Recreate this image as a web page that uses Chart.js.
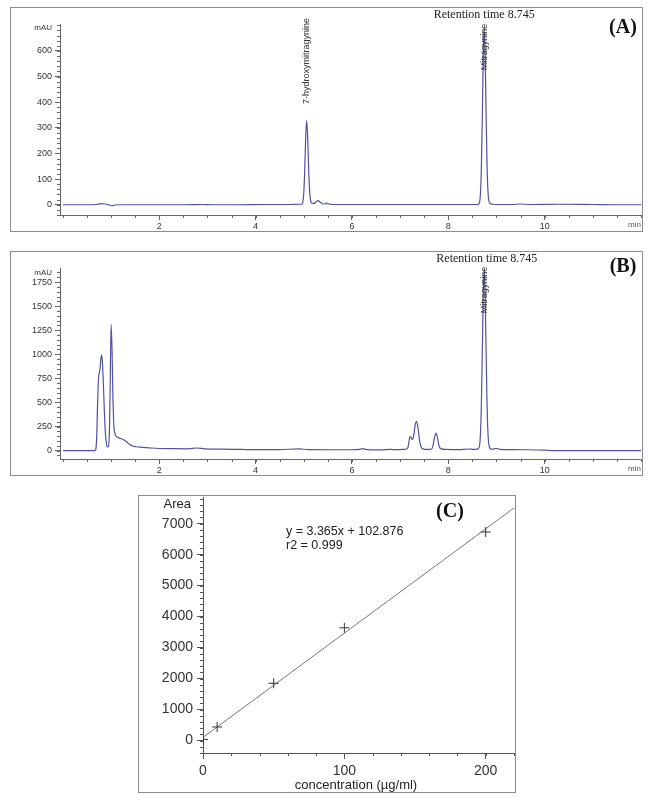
<!DOCTYPE html>
<html>
<head>
<meta charset="utf-8">
<script src="https://cdn.jsdelivr.net/npm/chart.js@4"></script>
<style>
  body { margin: 0; background: #fff; width: 650px; height: 804px; position: relative; overflow: hidden; }
  .box { position: absolute; border: 1px solid #8c8c8c; box-sizing: border-box; }
  canvas { position: absolute; }
</style>
</head>
<body>
<div class="box" style="left:10px;top:7px;width:633px;height:225px"></div>
<div class="box" style="left:10px;top:251px;width:633px;height:225px"></div>
<div class="box" style="left:138px;top:495px;width:378px;height:298px"></div>
<canvas id="chromA" width="632" height="224" style="left:10px;top:7px"></canvas>
<canvas id="chromB" width="632" height="224" style="left:10px;top:251px"></canvas>
<canvas id="calib" width="377" height="297" style="left:138px;top:495px"></canvas>
<script>
'use strict';

// (A) standard chromatogram, time in min / absorbance in mAU
const timeA = [0, 0.5, 0.7, 0.78, 0.86, 0.95, 1.02, 1.08, 1.2, 1.6, 2.0, 2.5, 2.9, 3.1, 3.6, 4.2, 4.7, 4.9,
  4.96, 4.98, 5.00, 5.02, 5.04, 5.06, 5.08, 5.10, 5.12, 5.14, 5.17, 5.21, 5.26, 5.30, 5.34, 5.39, 5.44, 5.47, 5.52, 5.6,
  6.0, 6.5, 7.0, 7.5, 8.0, 8.4, 8.605, 8.645, 8.665, 8.685, 8.705, 8.725, 8.745, 8.765, 8.785, 8.805, 8.825, 8.845,
  8.87, 8.92, 9.0, 9.3, 9.5, 9.7, 10.3, 11.0, 11.5, 12];
const mauA = [0, 0, 1, 4, 3, 0, -4, -1, 0, 0, 0, 0, 1, 0, 0, 1, 1, 2,
  2, 10, 45, 135, 262, 328, 270, 150, 58, 18, 6, 5, 12, 16, 10, 4, 3, 6, 3, 1,
  1, 1, 1, 1, 1, 1, 1, 7, 37, 132, 330, 573, 690, 585, 350, 150, 48, 14,
  5, 2, 1, 1, 3, 1, 2, 1, 0, 0];

// (B) sample chromatogram
const timeB = [0, 0.5, 0.66, 0.68, 0.70, 0.72, 0.74, 0.755, 0.77, 0.79, 0.805, 0.82, 0.84, 0.86, 0.88, 0.90, 0.92,
  0.94, 0.96, 0.98, 1.00, 1.02, 1.04, 1.06, 1.09, 1.13, 1.18, 1.24, 1.30, 1.36, 1.43, 1.52, 1.65, 1.8, 2.0, 2.3, 2.6,
  2.78, 2.95, 3.3, 3.7, 4.0, 4.5, 4.9, 5.1, 5.6, 6.0, 6.15, 6.22, 6.3, 6.6, 6.8, 6.9, 7.05, 7.12, 7.16, 7.18, 7.20,
  7.22, 7.25, 7.28, 7.31, 7.34, 7.37, 7.40, 7.43, 7.47, 7.55, 7.64, 7.68, 7.71, 7.745, 7.78, 7.81, 7.85, 7.95, 8.2,
  8.44, 8.52, 8.6, 8.645, 8.665, 8.685, 8.705, 8.725, 8.745, 8.765, 8.785, 8.805, 8.825, 8.845, 8.87, 8.92, 8.98,
  9.02, 9.08, 9.3, 9.6, 10.0, 10.2, 11.0, 12];
const mauB = [0, 0, 0, 8, 120, 480, 760, 800, 850, 960, 995, 920, 700, 420, 200, 90, 40,
  38, 110, 600, 1310, 1050, 520, 250, 165, 140, 130, 118, 100, 75, 50, 40, 34, 28, 22, 20, 19,
  27, 18, 15, 12, 10, 10, 18, 10, 9, 9, 12, 20, 10, 8, 12, 10, 12, 14, 30, 80, 140,
  145, 115, 150, 260, 303, 240, 120, 45, 18, 12, 14, 45, 130, 181, 120, 45, 18, 12, 10,
  17, 13, 15, 45, 150, 445, 995, 1610, 1885, 1620, 1020, 470, 165, 55, 22, 14, 22,
  20, 12, 10, 9, 5, 0, 0, 0];

const chromTicks = [2, 4, 6, 8, 10];
const ticksA = [0, 100, 200, 300, 400, 500, 600];
const ticksB = [0, 250, 500, 750, 1000, 1250, 1500, 1750];

// (C) calibration curve
const concentration = [0, 10, 50, 100, 200];
const area = [40, 440, 1850, 3640, 6730];
const fitConc = [0, 220];
const fitArea = [103, 7506];
const ticksCx = [0, 100, 200];
const ticksCy = [0, 1000, 2000, 3000, 4000, 5000, 6000, 7000];

const SANS = "'Liberation Sans', Arial, sans-serif";
const SERIF = "'Liberation Serif', 'Times New Roman', serif";

// short unlabeled ticks between the labeled ones
const minorTicks = {
  id: 'minorTicks',
  afterDraw(chart, args, o) {
    const { ctx, scales: { x, y } } = chart;
    ctx.save();
    ctx.strokeStyle = o.color;
    ctx.lineWidth = 1;
    ctx.beginPath();
    for (let i = Math.ceil(x.min / o.x); i * o.x <= x.max + 1e-9; i++) {
      const px = Math.round(x.getPixelForValue(i * o.x)) + 0.5;
      ctx.moveTo(px, x.top);
      ctx.lineTo(px, x.top + o.len);
    }
    for (let i = Math.ceil(y.min / o.y); i * o.y <= y.max + 1e-9; i++) {
      const py = Math.round(y.getPixelForValue(i * o.y)) + 0.5;
      ctx.moveTo(y.right, py);
      ctx.lineTo(y.right - o.len, py);
    }
    ctx.stroke();
    ctx.restore();
  }
};

function notes(items) {
  return {
    id: 'notes',
    afterDraw(chart) {
      const ctx = chart.ctx;
      items.forEach(n => {
        const px = n.t !== undefined ? chart.scales.x.getPixelForValue(n.t) : n.x;
        ctx.save();
        ctx.font = n.font;
        ctx.fillStyle = n.color || '#222';
        ctx.textAlign = n.align || 'center';
        ctx.textBaseline = 'middle';
        ctx.translate(px, n.y);
        if (n.rot) ctx.rotate(-Math.PI / 2);
        ctx.fillText(n.text, 0, 0);
        ctx.restore();
      });
    }
  };
}

function pts(xs, ys) {
  return xs.map((v, i) => ({ x: v, y: ys[i] }));
}

// fixed axis box sizes, no extra room for edge labels
function fitTo(w, h) {
  return s => {
    if (w) s.width = w;
    if (h) s.height = h;
    s.paddingLeft = 0; s.paddingRight = 0; s.paddingTop = 0; s.paddingBottom = 0;
  };
}

function chromOptions(yMin, yMax, yTicks, yMinor) {
  return {
    responsive: false,
    animation: false,
    layout: { autoPadding: false, padding: { top: 17, right: 1, left: 0, bottom: 0 } },
    plugins: {
      legend: { display: false },
      tooltip: { enabled: false },
      minorTicks: { x: 0.5, y: yMinor, len: 3, color: '#666' }
    },
    scales: {
      x: {
        type: 'linear', min: -0.06, max: 12,
        afterBuildTicks: s => { s.ticks = chromTicks.map(v => ({ value: v })); },
        afterFit: fitTo(0, 16),
        ticks: { font: { family: SANS, size: 9 }, color: '#333', padding: 1, maxRotation: 0, autoSkip: false,
          callback: v => String(v) },
        grid: { drawOnChartArea: false, tickLength: 5, color: '#666' },
        border: { color: '#666' }
      },
      y: {
        min: yMin, max: yMax,
        afterBuildTicks: s => { s.ticks = yTicks.map(v => ({ value: v })); },
        afterFit: fitTo(50, 0),
        ticks: { font: { family: SANS, size: 9 }, color: '#333', padding: 3, autoSkip: false,
          callback: v => String(v) },
        grid: { drawOnChartArea: false, tickLength: 5, color: '#666' },
        border: { color: '#666' }
      }
    }
  };
}

function chromDataset(xs, ys) {
  return {
    datasets: [{
      data: pts(xs, ys),
      borderColor: '#5252a3',
      borderWidth: 1.2,
      pointRadius: 0,
      fill: false,
      cubicInterpolationMode: 'monotone'
    }]
  };
}

new Chart(document.getElementById('chromA'), {
  type: 'line',
  data: chromDataset(timeA, mauA),
  options: chromOptions(-40, 705, ticksA, 20),
  plugins: [minorTicks, notes([
    { text: 'mAU', x: 42, y: 21, font: '8px ' + SANS, color: '#333', align: 'right' },
    { text: 'min', x: 631, y: 218, font: '8px ' + SANS, color: '#555', align: 'right' },
    { text: 'Retention time 8.745', t: 8.745, y: 8, font: '12px ' + SERIF, color: '#222' },
    { text: '(A)', x: 613, y: 21, font: 'bold 20px ' + SERIF, color: '#111' },
    { text: '7-hydroxymitragynine', t: 5.06, y: 54, rot: true, font: '9px ' + SANS, color: '#333' },
    { text: 'Mitragynine', t: 8.76, y: 40, rot: true, font: '9px ' + SANS, color: '#333' }
  ])]
});

new Chart(document.getElementById('chromB'), {
  type: 'line',
  data: chromDataset(timeB, mauB),
  options: chromOptions(-87, 1896, ticksB, 50),
  plugins: [minorTicks, notes([
    { text: 'mAU', x: 42, y: 22, font: '8px ' + SANS, color: '#333', align: 'right' },
    { text: 'min', x: 631, y: 218, font: '8px ' + SANS, color: '#555', align: 'right' },
    { text: 'Retention time 8.745', t: 8.8, y: 8, font: '12px ' + SERIF, color: '#222' },
    { text: '(B)', x: 613, y: 16, font: 'bold 20px ' + SERIF, color: '#111' },
    { text: 'Mitragynine', t: 8.745, y: 39, rot: true, font: '9px ' + SANS, color: '#333' }
  ])]
});

new Chart(document.getElementById('calib'), {
  type: 'scatter',
  data: {
    datasets: [{
      data: pts(concentration, area),
      pointStyle: 'cross',
      pointRadius: 5,
      borderColor: '#333',
      borderWidth: 1
    }, {
      data: pts(fitConc, fitArea),
      showLine: true,
      borderColor: '#777',
      borderWidth: 1,
      pointRadius: 0
    }]
  },
  options: {
    responsive: false,
    animation: false,
    layout: { autoPadding: false, padding: { top: 2, right: 1, left: 0, bottom: 0 } },
    plugins: {
      legend: { display: false },
      tooltip: { enabled: false },
      minorTicks: { x: 20, y: 200, len: 3, color: '#555' }
    },
    scales: {
      x: {
        type: 'linear', min: 0, max: 220,
        afterBuildTicks: s => { s.ticks = ticksCx.map(v => ({ value: v })); },
        afterFit: fitTo(0, 39),
        ticks: { font: { family: SANS, size: 14 }, color: '#333', padding: 4, maxRotation: 0, autoSkip: false,
          callback: v => String(v) },
        grid: { drawOnChartArea: false, tickLength: 6, color: '#555' },
        border: { color: '#555' }
      },
      y: {
        min: -400, max: 7860,
        afterBuildTicks: s => { s.ticks = ticksCy.map(v => ({ value: v })); },
        afterFit: fitTo(65, 0),
        ticks: { font: { family: SANS, size: 14 }, color: '#333', padding: 4, autoSkip: false,
          callback: v => String(v) },
        grid: { drawOnChartArea: false, tickLength: 6, color: '#555' },
        border: { color: '#555' }
      }
    }
  },
  plugins: [minorTicks, notes([
    { text: 'Area', x: 53, y: 9, font: '13px ' + SANS, color: '#222', align: 'right' },
    { text: 'y = 3.365x + 102.876', x: 148, y: 37, font: '12.5px ' + SANS, color: '#222', align: 'left' },
    { text: 'r2 = 0.999', x: 148, y: 51, font: '12.5px ' + SANS, color: '#222', align: 'left' },
    { text: '(C)', x: 312, y: 17, font: 'bold 20px ' + SERIF, color: '#111' },
    { text: 'concentration (\u00b5g/ml)', x: 218, y: 290, font: '13px ' + SANS, color: '#222' }
  ])]
});
</script>
</body>
</html>
